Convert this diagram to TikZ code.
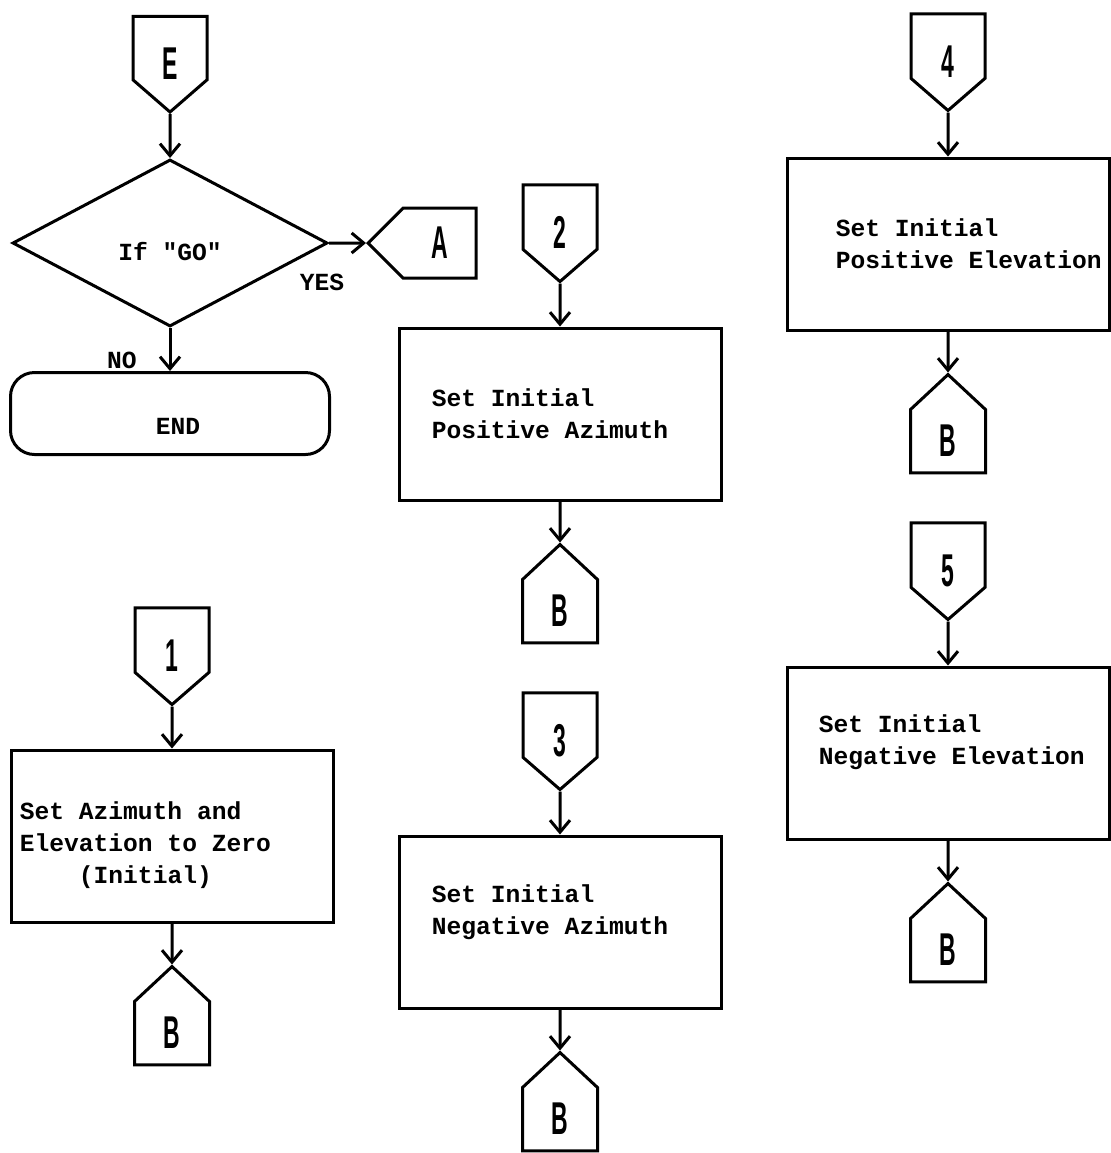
\documentclass[tikz,border=0pt]{standalone}
\usepackage{fontspec}
\usepackage{graphicx}
\usetikzlibrary{shapes.geometric, shapes.symbols, arrows.meta, positioning}
\newfontfamily\typefont{Liberation Mono}
\newfontfamily\connfont{Liberation Sans}
\newcommand{\cnum}[1]{\scalebox{0.5}[1]{\connfont\bfseries\fontsize{23pt}{23pt}\selectfont #1}}

\begin{document}
\begin{tikzpicture}[x=0.5pt, y=-0.5pt,
  ink/.style={line width=1.5pt},
  flow/.style={ink, -{Straight Barb[length=6pt, width=10pt]}},
  entry/.style={draw, ink, signal, signal to=south, signal pointer angle=98,
    minimum width=37pt, minimum height=35pt, inner sep=0pt,
    text height=31.8pt, text depth=0pt},
  exit/.style={draw, ink, signal, signal to=north, signal pointer angle=94,
    minimum width=37.5pt, minimum height=35.5pt, inner sep=0pt},
  process/.style={draw, ink, minimum width=161pt, minimum height=86pt},
  boxtext/.style={font=\typefont\bfseries\fontsize{12.3pt}{16pt}\selectfont,
    align=left, inner sep=0pt, anchor=west},
  lbl/.style={font=\typefont\bfseries\fontsize{12.3pt}{15pt}\selectfont, inner sep=0pt}]

  \fill[white] (0,0) rectangle (1111,1153);
  \useasboundingbox (0,0) rectangle (1111,1153);

  % Start test
  \node[diamond, draw, ink, minimum width=157.5pt, minimum height=83.5pt, lbl,
    text height=17.5pt, text depth=0pt] (dgo) at (170,243) {If "GO"};
  \node[entry, above=22pt of dgo] (cE) {\cnum{E}};
  \node[draw, ink, signal, signal to=west, signal pointer angle=90, minimum width=54pt,
    minimum height=35pt, inner sep=0pt, right=18.5pt of dgo.east] (cA) {\cnum{A}};
  \node[draw, ink, rounded corners=12pt, minimum width=159.5pt, minimum height=41pt, lbl,
    text height=21.4pt, text depth=0pt, below=21.5pt of dgo] (tend) {\hspace*{8pt}END};
  \node[lbl] (yes) at (322,282) {YES};
  \node[lbl] (no) at (122,360) {NO};

  % Process boxes
  \node[process] (box1) at (172,836) {};
  \node[process] (box2) at (560,414) {};
  \node[process] (box3) at (560,922) {};
  \node[process] (box4) at (948,244) {};
  \node[process] (box5) at (948,753) {};

  \node[boxtext, right=5pt of box1.west, yshift=-4.5pt] (t1)
    {Set Azimuth and\\Elevation to Zero\\\phantom{0000}(Initial)};
  \node[boxtext, right=17pt of box2.west] (t2) {Set Initial\\Positive Azimuth};
  \node[boxtext, right=17pt of box3.west, yshift=5pt] (t3) {Set Initial\\Negative Azimuth};
  \node[boxtext, right=25pt of box4.west] (t4) {Set Initial\\Positive Elevation};
  \node[boxtext, right=16.5pt of box5.west, yshift=5.5pt] (t5) {Set Initial\\Negative Elevation};

  % Off-page connectors
  \node[entry, above=21pt of box1] (c1) {\cnum{1}};
  \node[entry, above=21.5pt of box2] (c2) {\cnum{2}};
  \node[entry, above=21.5pt of box3] (c3) {\cnum{3}};
  \node[entry, above=22pt of box4] (c4) {\cnum{4}};
  \node[entry, above=22pt of box5] (c5) {\cnum{5}};
  \foreach \i in {1,...,5}
    \node[exit, below=20.5pt of box\i] (b\i) {\cnum{B}};

  % Flow lines
  \draw[flow] (cE) -- (dgo);
  \draw[flow] (dgo) -- (cA);
  \draw[flow] (dgo) -- (tend);
  \foreach \i in {1,...,5}{
    \draw[flow] (c\i) -- (box\i);
    \draw[flow] (box\i) -- (b\i);
  }
\end{tikzpicture}
\end{document}
